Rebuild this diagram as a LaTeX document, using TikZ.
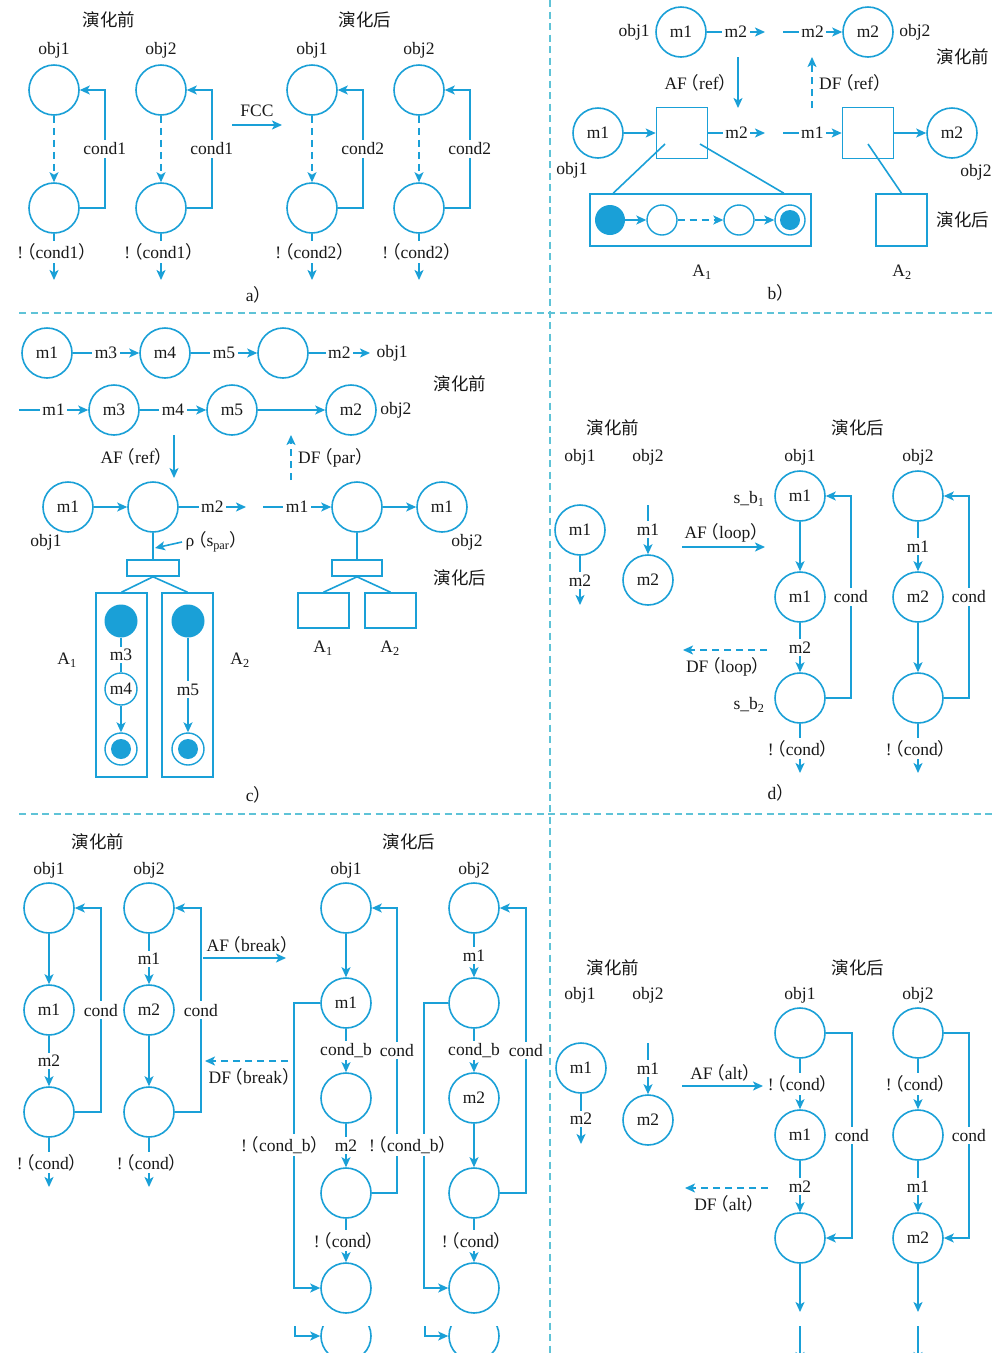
\documentclass[tikz,border=0pt]{standalone}
\usepackage{fontspec}
\setmainfont{Liberation Serif}
\newfontfamily\cjk{Noto Sans CJK SC}
\usetikzlibrary{arrows.meta, positioning}
\definecolor{flow}{RGB}{26,160,215}
\definecolor{sepline}{RGB}{95,195,215}
\newcommand{\zlp}{\kern-0.3em{\cjk （}}
\newcommand{\zrp}{{\cjk ）}\kern-0.3em}
\tikzset{
  state/.style={circle, draw=flow, line width=1.6pt, minimum size=50pt, inner sep=0pt},
  smallstate/.style={circle, draw=flow, line width=1.4pt, minimum size=30pt, inner sep=0pt},
  initstate/.style={circle, fill=flow, minimum size=30pt, inner sep=0pt},
  finalstate/.style={smallstate, path picture={\fill[flow] (path picture bounding box.center) circle (10pt);}},
  part/.style={rectangle, draw=flow, line width=1.6pt, minimum width=51pt, minimum height=51pt, inner sep=0pt},
  flowline/.style={draw=flow, line width=1.6pt},
  arr/.style={flowline, -{Stealth[length=10pt,width=9pt,inset=2.5pt]}},
  darr/.style={arr, dash pattern=on 7pt off 5pt},
  onlbl/.style={fill=white, inner sep=2.5pt},
  hd/.style={font=\cjk\fontsize{17.5}{20}\selectfont},
  sep/.style={draw=sepline, line width=1.6pt, dash pattern=on 7pt off 4.5pt},
}
\begin{document}
\begin{tikzpicture}[x=1pt, y=-1pt, font=\fontsize{17.5}{20}\selectfont, text=black!90]
\useasboundingbox (0,0) rectangle (1006,1353);
\fill[white] (0,0) rectangle (1006,1353);

% separators
\draw[sep] (550,0) -- (550,1353);
\draw[sep] (19,313) -- (993,313);
\draw[sep] (19,814) -- (993,814);

% a) FCC
\node[hd] at (109,20) {演化前};
\node[hd] at (365,20) {演化后};
\foreach \n/\x/\o/\c in {1/54/1/1, 2/161/2/1, 3/312/1/2, 4/419/2/2} {
  \node at (\x,50) {obj\o};
  \node[state] (atop\n) at (\x,90) {};
  \node[state] (abot\n) at (\x,208) {};
  \coordinate (aout\n) at (\x,280);
  \draw[darr] (atop\n) -- (abot\n);
  \draw[arr] (abot\n.east) -- ++(25,0) |- node[onlbl,pos=0.25] {cond\c} (atop\n.east);
  \draw[arr] (abot\n) -- node[onlbl,pos=0.4] {!\zlp cond\c\zrp} (aout\n);
}
\coordinate (fccA) at (232,125);
\coordinate (fccB) at (282,125);
\draw[arr] (fccA) -- node[above=4pt] {FCC} (fccB);
\node at (256,295) {a\zrp};

% b) ref
\node[state] (b-m1) at (681,32) {m1};
\node[left=2pt of b-m1] {obj1};
\coordinate (b-e1) at (765,32);
\draw[arr] (b-m1) -- node[onlbl] {m2} (b-e1);
\coordinate (b-s1) at (783,32);
\node[state] (b-m2) at (868,32) {m2};
\draw[arr] (b-s1) -- node[onlbl] {m2} (b-m2);
\node[right=2pt of b-m2] {obj2};
\node[hd] at (963,57) {演化前};
\coordinate (b-af1) at (738,57);
\coordinate (b-af2) at (738,108);
\draw[arr] (b-af1) -- node[left=3pt] {AF\zlp ref\zrp} (b-af2);
\coordinate (b-df1) at (812,108);
\coordinate (b-df2) at (812,57);
\draw[darr] (b-df1) -- node[right=3pt] {DF\zlp ref\zrp} (b-df2);
\node[state] (b-m1b) at (598,133) {m1};
\node[part] (b-sq1) at (682,133) {};
\draw[arr] (b-m1b) -- (b-sq1);
\coordinate (b-e2) at (765,133);
\draw[arr] (b-sq1) -- node[onlbl] {m2} (b-e2);
\coordinate (b-s2) at (783,133);
\node[part] (b-sq2) at (868,133) {};
\draw[arr] (b-s2) -- node[onlbl] {m1} (b-sq2);
\node[state] (b-m2b) at (952,133) {m2};
\draw[arr] (b-sq2) -- (b-m2b);
\node at (572,170) {obj1};
\node at (976,172) {obj2};
\node[part, minimum width=221pt, minimum height=52pt] (b-A1) at (700.5,220) {};
\node[part, minimum width=51pt, minimum height=52pt] (b-A2) at (901.5,220) {};
\draw[flowline] (b-sq1.center) ++(-17,11) -- ([xshift=24pt]b-A1.north west);
\draw[flowline] (b-sq1.center) ++(18,11) -- ([xshift=-28pt]b-A1.north east);
\draw[flowline] (b-sq2.center) ++(0,11) -- (b-A2.north);
\node[initstate] (b-i) at (610,220) {};
\node[smallstate] (b-s) at (662,220) {};
\node[smallstate] (b-t) at (739,220) {};
\node[finalstate] (b-f) at (790,220) {};
\draw[arr] (b-i) -- (b-s);
\draw[darr] (b-s) -- (b-t);
\draw[arr] (b-t) -- (b-f);
\node[hd] at (963,220) {演化后};
\node at (702,272) {A\textsubscript{1}};
\node at (902,272) {A\textsubscript{2}};
\node at (778,293) {b\zrp};

% c) par
\node[state] (c-m1) at (47,353) {m1};
\node[state] (c-m4) at (165,353) {m4};
\node[state] (c-x) at (283,353) {};
\coordinate (c-e1) at (370,353);
\draw[arr] (c-m1) -- node[onlbl] {m3} (c-m4);
\draw[arr] (c-m4) -- node[onlbl] {m5} (c-x);
\draw[arr] (c-x) -- node[onlbl] {m2} (c-e1);
\node[right=3pt of c-e1] {obj1};
\node[hd] at (460,384) {演化前};
\coordinate (c-s2) at (19,410);
\node[state] (c-m3) at (114,410) {m3};
\node[state] (c-m5) at (232,410) {m5};
\node[state] (c-m2) at (351,410) {m2};
\draw[arr] (c-s2) -- node[onlbl] {m1} (c-m3);
\draw[arr] (c-m3) -- node[onlbl] {m4} (c-m5);
\draw[arr] (c-m5) -- (c-m2);
\node[right=0pt of c-m2] {obj2};
\coordinate (c-af1) at (174,435);
\coordinate (c-af2) at (174,478);
\draw[arr] (c-af1) -- node[left=3pt] {AF\zlp ref\zrp} (c-af2);
\coordinate (c-df1) at (291,480);
\coordinate (c-df2) at (291,435);
\draw[darr] (c-df1) -- node[right=3pt] {DF\zlp par\zrp} (c-df2);
\node[state] (c-m1b) at (68,507) {m1};
\node[state] (c-p1) at (153,507) {};
\draw[arr] (c-m1b) -- (c-p1);
\coordinate (c-e3) at (246,507);
\draw[arr] (c-p1) -- node[onlbl] {m2} (c-e3);
\coordinate (c-s3) at (263,507);
\node[state] (c-p2) at (357,507) {};
\draw[arr] (c-s3) -- node[onlbl] {m1} (c-p2);
\node[state] (c-m1c) at (442,507) {m1};
\draw[arr] (c-p2) -- (c-m1c);
\node at (46,542) {obj1};
\node at (467,542) {obj2};
\node[part, minimum width=52pt, minimum height=16pt] (c-fk1) at (153,568) {};
\draw[flowline] (c-p1.south) -- (c-fk1.north);
\coordinate (c-rho) at (155,548);
\node[anchor=west] (c-rl) at (182,542) {ρ\zlp s\textsubscript{par}\zrp};
\draw[arr] (c-rl.west) -- (c-rho);
\node[part, minimum width=51pt, minimum height=184pt] (c-A1) at (121.5,685) {};
\node[part, minimum width=51pt, minimum height=184pt] (c-A2) at (187.5,685) {};
\draw[flowline] (c-fk1.south) -- (c-A1.north);
\draw[flowline] (c-fk1.south) -- (c-A2.north);
\node[initstate, minimum size=33pt] (c-i1) at (121,621) {};
\node[smallstate, minimum size=32pt] (c-m4s) at (121,689) {m4};
\node[finalstate, minimum size=32pt] (c-f1) at (121,749) {};
\draw[flowline, line width=1.2pt] (c-i1) -- node[onlbl] {m3} (c-m4s);
\draw[arr] (c-m4s) -- (c-f1);
\node[initstate, minimum size=33pt] (c-i2) at (188,621) {};
\node[finalstate, minimum size=32pt] (c-f2) at (188,749) {};
\draw[arr] (c-i2) -- node[onlbl, pos=0.55] {m5} (c-f2);
\node at (67,660) {A\textsubscript{1}};
\node at (240,660) {A\textsubscript{2}};
\node[part, minimum width=50pt, minimum height=16pt] (c-fk2) at (357,568) {};
\draw[flowline] (c-p2.south) -- (c-fk2.north);
\node[part, minimum width=51pt, minimum height=35pt] (c-B1) at (323.5,610.5) {};
\node[part, minimum width=51pt, minimum height=35pt] (c-B2) at (390.5,610.5) {};
\draw[flowline] (c-fk2.south) -- (c-B1.north);
\draw[flowline] (c-fk2.south) -- (c-B2.north);
\node at (323,648) {A\textsubscript{1}};
\node at (390,648) {A\textsubscript{2}};
\node[hd] at (460,578) {演化后};
\node at (256,795) {c\zrp};

% d) loop
\node[hd] at (613,428) {演化前};
\node[hd] at (858,428) {演化后};
\node at (580,457) {obj1};
\node at (648,457) {obj2};
\node[state] (d-m1) at (580,530) {m1};
\coordinate (d-e1) at (580,605);
\draw[arr] (d-m1) -- node[onlbl] {m2} (d-e1);
\coordinate (d-s1) at (648,505);
\node[state] (d-m2) at (648,580) {m2};
\draw[arr] (d-s1) -- node[onlbl] {m1} (d-m2);
\coordinate (d-af1) at (682,547);
\coordinate (d-af2) at (765,547);
\draw[arr] (d-af1) -- node[above=1pt] {AF\zlp loop\zrp} (d-af2);
\node at (800,457) {obj1};
\node[state] (d-a) at (800,496) {m1};
\node[state] (d-b) at (800,597) {m1};
\node[state] (d-c) at (800,698) {};
\coordinate (d-ao) at (800,773);
\draw[arr] (d-a) -- (d-b);
\draw[arr] (d-b) -- node[onlbl] {m2} (d-c);
\draw[arr] (d-c.east) -- ++(25,0) |- node[onlbl,pos=0.25] {cond} (d-a.east);
\draw[arr] (d-c) -- node[onlbl] {!\zlp cond\zrp} (d-ao);
\node at (749,499) {s\_b\textsubscript{1}};
\node at (749,705) {s\_b\textsubscript{2}};
\coordinate (d-df1) at (767,650);
\coordinate (d-df2) at (683,650);
\draw[darr] (d-df1) -- node[below=3pt] {DF\zlp loop\zrp} (d-df2);
\node at (918,457) {obj2};
\node[state] (d-p) at (918,496) {};
\node[state] (d-q) at (918,597) {m2};
\node[state] (d-r) at (918,698) {};
\coordinate (d-po) at (918,773);
\draw[arr] (d-p) -- node[onlbl] {m1} (d-q);
\draw[arr] (d-q) -- (d-r);
\draw[arr] (d-r.east) -- ++(25,0) |- node[onlbl,pos=0.25] {cond} (d-p.east);
\draw[arr] (d-r) -- node[onlbl] {!\zlp cond\zrp} (d-po);
\node at (778,793) {d\zrp};

% e) break
\node[hd] at (98,842) {演化前};
\node[hd] at (409,842) {演化后};
\node at (49,870) {obj1};
\node at (149,870) {obj2};
\node at (346,870) {obj1};
\node at (474,870) {obj2};
\node[state] (e-a1) at (49,908) {};
\node[state] (e-a2) at (49,1010) {m1};
\node[state] (e-a3) at (49,1112) {};
\coordinate (e-ao) at (49,1187);
\draw[arr] (e-a1) -- (e-a2);
\draw[arr] (e-a2) -- node[onlbl] {m2} (e-a3);
\draw[arr] (e-a3.east) -- ++(26,0) |- node[onlbl,pos=0.25] {cond} (e-a1.east);
\draw[arr] (e-a3) -- node[onlbl] {!\zlp cond\zrp} (e-ao);
\node[state] (e-b1) at (149,908) {};
\node[state] (e-b2) at (149,1010) {m2};
\node[state] (e-b3) at (149,1112) {};
\coordinate (e-bo) at (149,1187);
\draw[arr] (e-b1) -- node[onlbl] {m1} (e-b2);
\draw[arr] (e-b2) -- (e-b3);
\draw[arr] (e-b3.east) -- ++(26,0) |- node[onlbl,pos=0.25] {cond} (e-b1.east);
\draw[arr] (e-b3) -- node[onlbl] {!\zlp cond\zrp} (e-bo);
\coordinate (e-af1) at (203,958);
\coordinate (e-af2) at (286,958);
\draw[arr] (e-af1) -- node[above=1pt, pos=0.56] {AF\zlp break\zrp} (e-af2);
\coordinate (e-df1) at (288,1061);
\coordinate (e-df2) at (205,1061);
\draw[darr] (e-df1) -- node[below=3pt, pos=0.44] {DF\zlp break\zrp} (e-df2);
\node[state] (e-c1) at (346,908) {};
\node[state] (e-c2) at (346,1003) {m1};
\node[state] (e-c3) at (346,1098) {};
\node[state] (e-c4) at (346,1193) {};
\node[state] (e-c5) at (346,1288) {};
\draw[arr] (e-c1) -- (e-c2);
\draw[arr] (e-c2) -- node[onlbl] {cond\_b} (e-c3);
\draw[arr] (e-c3) -- node[onlbl] {m2} (e-c4);
\draw[arr] (e-c4) -- node[onlbl] {!\zlp cond\zrp} (e-c5);
\draw[arr] (e-c4.east) -- ++(25,0) |- node[onlbl,pos=0.25] {cond} (e-c1.east);
\draw[arr] (e-c2.west) -- ++(-26,0) |- (e-c5.west);
\node[state] (e-d1) at (474,908) {};
\node[state] (e-d2) at (474,1003) {};
\node[state] (e-d3) at (474,1098) {m2};
\node[state] (e-d4) at (474,1193) {};
\node[state] (e-d5) at (474,1288) {};
\draw[arr] (e-d1) -- node[onlbl] {m1} (e-d2);
\draw[arr] (e-d2) -- node[onlbl] {cond\_b} (e-d3);
\draw[arr] (e-d3) -- (e-d4);
\draw[arr] (e-d4) -- node[onlbl] {!\zlp cond\zrp} (e-d5);
\draw[arr] (e-d4.east) -- ++(26,0) |- node[onlbl,pos=0.25] {cond} (e-d1.east);
\draw[arr] (e-d2.west) -- ++(-24,0) |- (e-d5.west);
\node[onlbl] at (282,1145) {!\zlp cond\_b\zrp};
\node[onlbl] at (410,1145) {!\zlp cond\_b\zrp};

% f) alt
\node[hd] at (613,968) {演化前};
\node[hd] at (858,968) {演化后};
\node at (580,995) {obj1};
\node at (648,995) {obj2};
\node[state] (f-m1) at (581,1068) {m1};
\coordinate (f-e1) at (581,1144);
\draw[arr] (f-m1) -- node[onlbl] {m2} (f-e1);
\coordinate (f-s1) at (648,1043);
\node[state] (f-m2) at (648,1120) {m2};
\draw[arr] (f-s1) -- node[onlbl] {m1} (f-m2);
\coordinate (f-af1) at (682,1086);
\coordinate (f-af2) at (763,1086);
\draw[arr] (f-af1) -- node[above=1pt] {AF\zlp alt\zrp} (f-af2);
\node at (800,995) {obj1};
\node[state] (f-a1) at (800,1033) {};
\node[state] (f-a2) at (800,1135) {m1};
\node[state] (f-a3) at (800,1238) {};
\coordinate (f-ao) at (800,1312);
\draw[arr] (f-a1) -- node[onlbl] {!\zlp cond\zrp} (f-a2);
\draw[arr] (f-a2) -- node[onlbl] {m2} (f-a3);
\draw[arr] (f-a3) -- (f-ao);
\draw[arr] (f-a1.east) -- ++(26,0) |- node[onlbl,pos=0.25] {cond} (f-a3.east);
\coordinate (f-df1) at (768,1188);
\coordinate (f-df2) at (685,1188);
\draw[darr] (f-df1) -- node[below=3pt] {DF\zlp alt\zrp} (f-df2);
\node at (918,995) {obj2};
\node[state] (f-b1) at (918,1033) {};
\node[state] (f-b2) at (918,1135) {};
\node[state] (f-b3) at (918,1238) {m2};
\coordinate (f-bo) at (918,1312);
\draw[arr] (f-b1) -- node[onlbl] {!\zlp cond\zrp} (f-b2);
\draw[arr] (f-b2) -- node[onlbl] {m1} (f-b3);
\draw[arr] (f-b3) -- (f-bo);
\draw[arr] (f-b1.east) -- ++(25,0) |- node[onlbl,pos=0.25] {cond} (f-b3.east);

% cut-off strip at the bottom
\begin{scope}
\clip (0,1326) rectangle (1006,1353);
\node[state] (e-c6) at (346,1336) {};
\node[state] (e-d6) at (474,1336) {};
\coordinate (e-k1) at (295,1320);
\coordinate (e-k2) at (425,1320);
\draw[arr] (e-k1) |- (e-c6.west);
\draw[arr] (e-k2) |- (e-d6.west);
\coordinate (f-k1) at (800,1326);
\coordinate (f-k2) at (918,1326);
\coordinate (f-k3) at (800,1362);
\coordinate (f-k4) at (918,1362);
\draw[arr] (f-k1) -- (f-k3);
\draw[arr] (f-k2) -- (f-k4);
\end{scope}
\end{tikzpicture}
\end{document}
